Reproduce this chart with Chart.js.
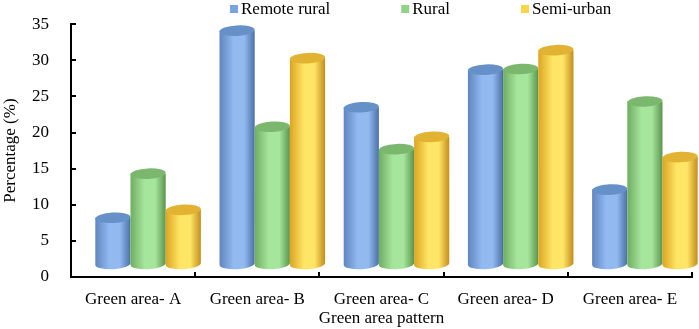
<!DOCTYPE html>
<html>
<head>
<meta charset="utf-8">
<script src="https://cdn.jsdelivr.net/npm/chart.js@4.4.1/dist/chart.umd.min.js"></script>
<style>
  html, body { margin: 0; padding: 0; background: #ffffff; }
  #wrap { width: 699px; height: 329px; position: relative; }
</style>
</head>
<body>
<div id="wrap"><canvas id="greenChart"></canvas></div>
<script>
const categories = ["Green area- A", "Green area- B", "Green area- C", "Green area- D", "Green area- E"];
const remoteRural = [8.2, 34.1, 23.5, 28.7, 12.1];
const rural = [14.3, 20.8, 17.7, 28.8, 24.3];
const semiUrban = [9.3, 30.3, 19.4, 31.4, 16.6];
const yTicks = [0, 5, 10, 15, 20, 25, 30, 35];

const FONT = { family: "'Liberation Serif', 'Times New Roman', serif", size: 17 };

// shading for each series: left edge, highlight, right edge, top cap, legend swatch
const shades = [
    { left: "#5f86bf", mid: "#92baf1", right: "#4b70a6", top: "#6690c8", key: "#78a4de" },
    { left: "#6fae61", mid: "#a6e59c", right: "#5a954e", top: "#7bb86d", key: "#8fd486" },
    { left: "#dca422", mid: "#ffe565", right: "#c38d1c", top: "#e2b232", key: "#fcd54a" }
];

const depthX = 15;   // 3D floor offset of the cylinders
const depthY = 13;

function drawCylinder(ctx, cx, topY, botY, w, s) {
    const rx = w / 2;
    const ry = w * 0.15;
    const tilt = -0.05;
    const g = ctx.createLinearGradient(cx - rx, 0, cx + rx, 0);
    g.addColorStop(0, s.left);
    g.addColorStop(0.4, s.mid);
    g.addColorStop(0.7, s.mid);
    g.addColorStop(1, s.right);

    ctx.beginPath();
    ctx.moveTo(cx - rx, topY);
    ctx.lineTo(cx - rx, botY);
    ctx.ellipse(cx, botY, rx, ry, tilt, Math.PI, 0, true);
    ctx.lineTo(cx + rx, topY);
    ctx.closePath();
    ctx.fillStyle = g;
    ctx.fill();

    ctx.beginPath();
    ctx.ellipse(cx, topY, rx, ry, tilt, 0, Math.PI * 2);
    ctx.fillStyle = s.top;
    ctx.fill();
}

const cylinderPlugin = {
    id: "cylinders",
    afterDatasetsDraw(chart) {
        const ctx = chart.ctx;
        const n = chart.data.labels.length;
        ctx.save();
        for (let i = 0; i < n; i++) {
            chart.data.datasets.forEach((ds, d) => {
                const bar = chart.getDatasetMeta(d).data[i];
                const p = bar.getProps(["x", "y", "base", "width"], true);
                drawCylinder(ctx, p.x + depthX, p.y, p.base - depthY, p.width, shades[d]);
            });
        }
        ctx.restore();
    }
};

// inward tick marks and the top legend
const axisPlugin = {
    id: "axisExtras",
    afterDraw(chart) {
        const ctx = chart.ctx;
        const area = chart.chartArea;
        const xs = chart.scales.x;
        const ys = chart.scales.y;
        ctx.save();
        ctx.strokeStyle = "#000";
        ctx.lineWidth = 2;
        yTicks.forEach(v => {
            const y = Math.round(ys.getPixelForValue(v));
            ctx.beginPath();
            ctx.moveTo(area.left, y);
            ctx.lineTo(area.left + 5, y);
            ctx.stroke();
        });
        for (let i = 0; i < categories.length; i++) {
            const x = Math.round(xs.getPixelForValue(i) + (xs.getPixelForValue(1) - xs.getPixelForValue(0)) / 2);
            ctx.beginPath();
            ctx.moveTo(x, area.bottom);
            ctx.lineTo(x, area.bottom - 5);
            ctx.stroke();
        }

        ctx.font = FONT.size + "px " + FONT.family;
        ctx.textBaseline = "middle";
        ctx.fillStyle = "#000";
        let x = area.left + 159;
        const y = 9;
        chart.data.datasets.forEach((ds, d) => {
            ctx.fillStyle = shades[d].key;
            ctx.fillRect(x, y - 4, 8, 8);
            ctx.fillStyle = "#000";
            ctx.fillText(ds.label, x + 11, y + 1);
            x += 11 + ctx.measureText(ds.label).width + 71;
        });
        ctx.restore();
    }
};

new Chart(document.getElementById("greenChart"), {
    type: "bar",
    data: {
        labels: categories,
        datasets: [
            { label: "Remote rural", data: remoteRural, backgroundColor: "rgba(0,0,0,0)" },
            { label: "Rural", data: rural, backgroundColor: "rgba(0,0,0,0)" },
            { label: "Semi-urban", data: semiUrban, backgroundColor: "rgba(0,0,0,0)" }
        ]
    },
    options: {
        responsive: true,
        maintainAspectRatio: false,
        animation: false,
        categoryPercentage: 0.85,
        barPercentage: 1.0,
        layout: { padding: { top: 16, right: 7, left: 0, bottom: 0 } },
        plugins: {
            legend: { display: false },
            tooltip: { enabled: false }
        },
        scales: {
            x: {
                grid: { display: false },
                border: { display: true, color: "#000", width: 2 },
                ticks: { color: "#000", font: FONT, padding: 4, maxRotation: 0 },
                title: { display: true, text: "Green area pattern", color: "#000", font: FONT, padding: { top: 2, bottom: 0 } },
                afterFit: scale => { scale.height = 52; }
            },
            y: {
                min: 0,
                max: 35,
                grid: { display: false },
                border: { display: true, color: "#000", width: 2 },
                ticks: { stepSize: 5, color: "#000", font: FONT, padding: 14 },
                title: { display: true, text: "Percentage (%)", color: "#000", font: FONT, padding: { top: 0, bottom: 0 } },
                afterFit: scale => { scale.width = 71; }
            }
        }
    },
    plugins: [cylinderPlugin, axisPlugin]
});
</script>
</body>
</html>
